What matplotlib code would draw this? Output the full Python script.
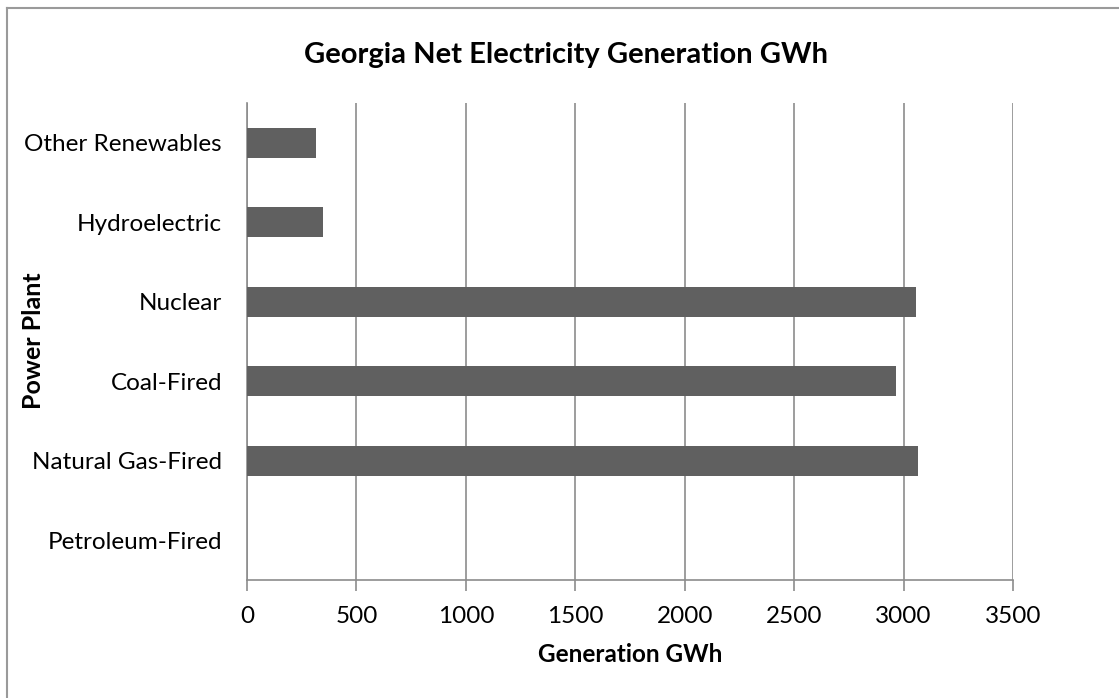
import matplotlib.pyplot as plt
from matplotlib.lines import Line2D

plt.rcParams['font.family'] = ['Lato', 'DejaVu Sans']

plants = ['Petroleum-Fired', 'Natural Gas-Fired', 'Coal-Fired',
          'Nuclear', 'Hydroelectric', 'Other Renewables']
gwh = [0, 3066, 2965, 3057, 349, 315]
xticks = [0, 500, 1000, 1500, 2000, 2500, 3000, 3500]

grid_col = '#8c8c8c'

fig = plt.figure(figsize=(11.19, 6.98), dpi=100)
ax = fig.add_axes([0.2207, 0.1691, 0.6846, 0.6833])

ax.barh(range(len(plants)), gwh, height=0.38, color='#606060',
        edgecolor='none', zorder=3)

ax.set_xlim(0, 3500)
ax.set_ylim(-0.5, len(plants) - 0.5)
ax.set_xticks(xticks)
ax.set_xticklabels([str(t) for t in xticks], fontsize=17.5)
ax.set_yticks(range(len(plants)))
ax.set_yticklabels(plants, fontsize=17.5)

ax.grid(axis='x', color=grid_col, linewidth=1.2, zorder=0)
ax.tick_params(axis='x', length=8, width=1.2, color=grid_col, pad=11)
ax.tick_params(axis='y', length=0, pad=18)
for s in ['top', 'right']:
    ax.spines[s].set_visible(False)
for s in ['left', 'bottom']:
    ax.spines[s].set_color(grid_col)
    ax.spines[s].set_linewidth(1.2)

ax.set_xlabel('Generation GWh', fontsize=17.5, fontweight='bold', labelpad=11)
fig.text(0.030, 0.5125, 'Power Plant', rotation=90, fontsize=18,
         fontweight='bold', ha='center', va='center')
fig.text(0.506, 0.921, 'Georgia Net Electricity Generation GWh',
         fontsize=21, fontweight='bold', ha='center', va='center')

# chart area border (top and left edges)
fig.add_artist(Line2D([0.0063, 1.0], [0.988, 0.988], color='#9a9a9a',
                      linewidth=1.5, transform=fig.transFigure))
fig.add_artist(Line2D([0.0063, 0.0063], [0.0, 0.988], color='#9a9a9a',
                      linewidth=1.5, transform=fig.transFigure))

fig.savefig('out.png', dpi=100)
